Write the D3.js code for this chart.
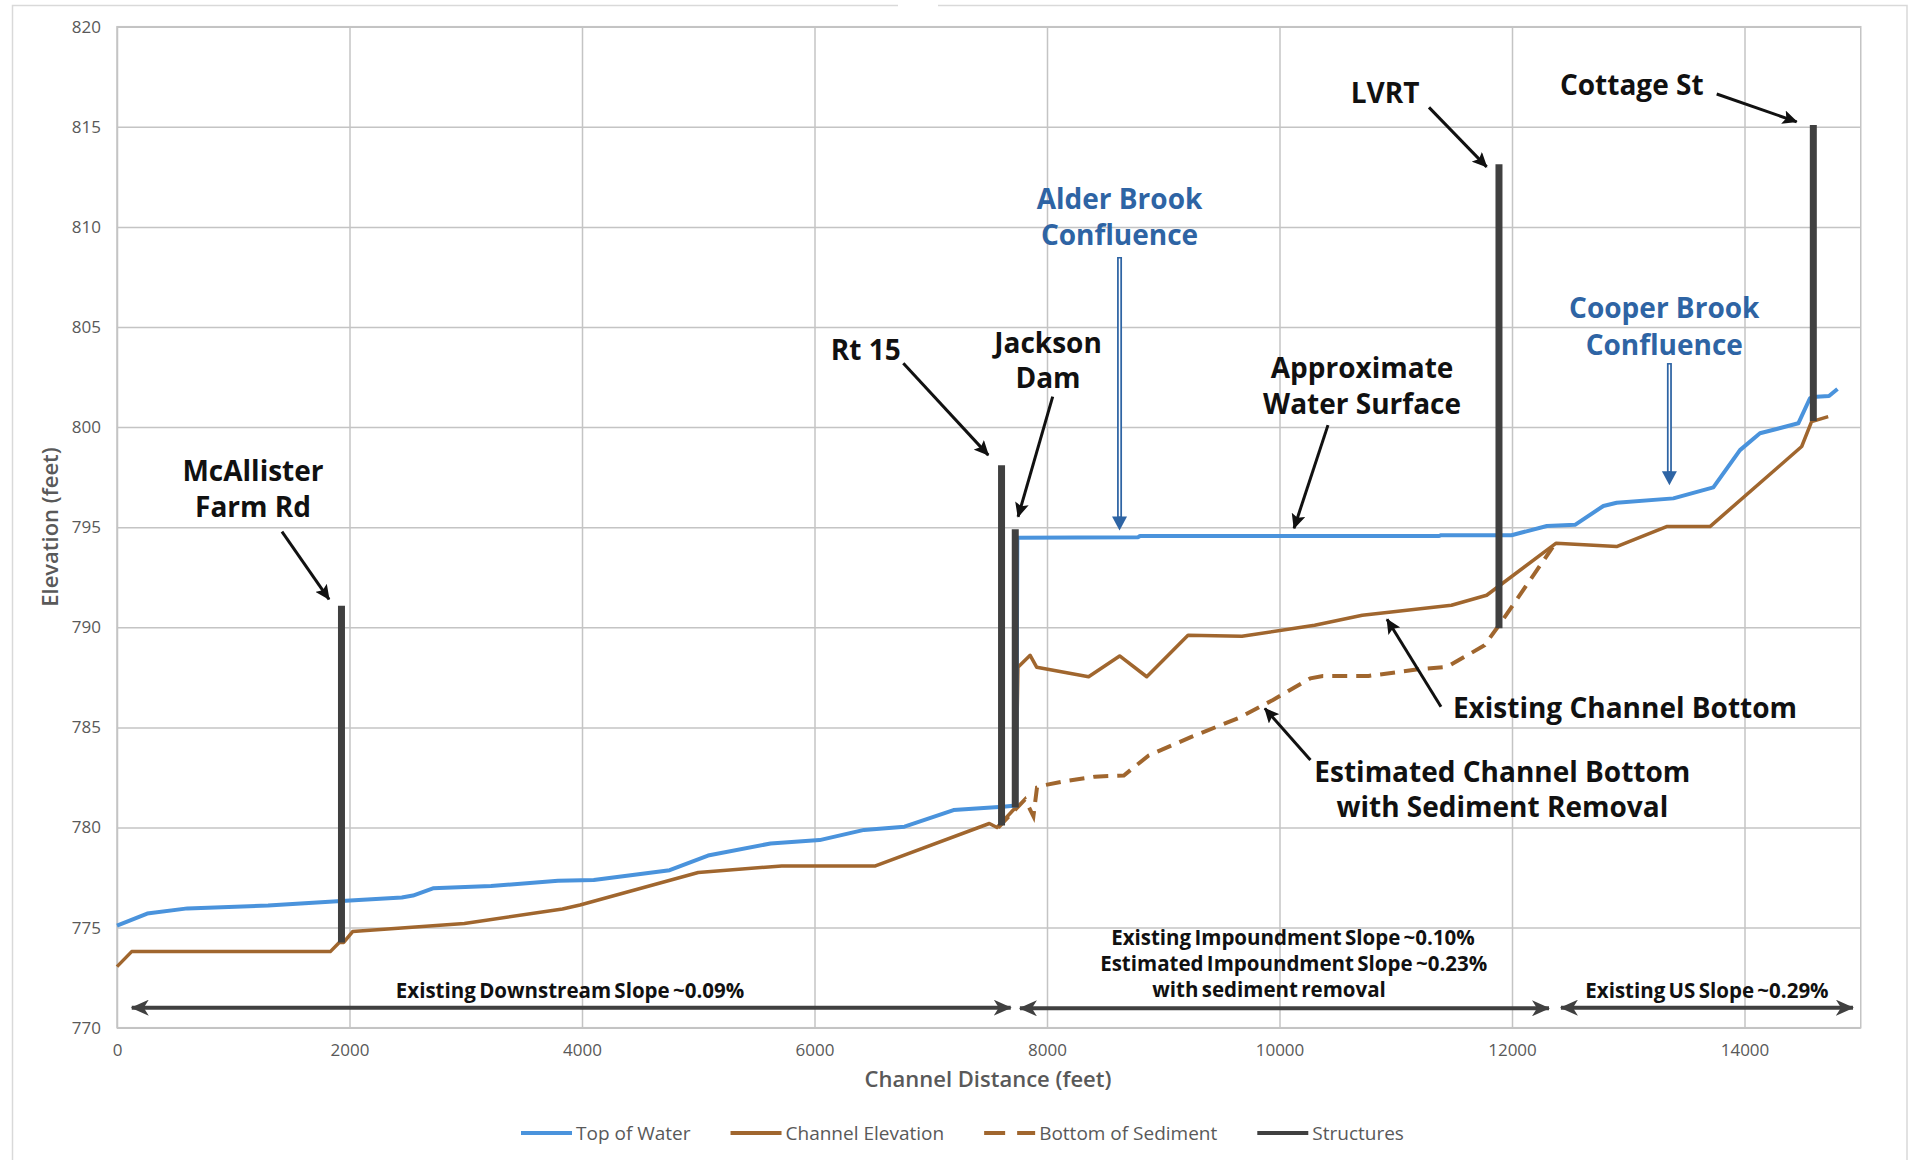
<!DOCTYPE html>
<html>
<head>
<meta charset="utf-8">
<script src="https://cdn.jsdelivr.net/npm/d3@7"></script>
<style>
  body { margin: 0; background: #fff; }
  text { font-family: "Open Sans", "Noto Sans", sans-serif; }
  .tick text { fill: #595959; font-size: 17px; }
  .grid line { stroke: #c4c4c4; stroke-width: 1.5px; }
  .note { font-weight: 700; font-size: 28px; fill: #111; }
  .blue { fill: #2e64a4; }
  .slope { font-weight: 700; font-size: 20.5px; fill: #111; word-spacing: -2px; }
  .axisTitle { font-weight: 600; font-size: 22px; fill: #595959; }
  .legend text { font-size: 19px; fill: #595959; }
</style>
</head>
<body>
<svg width="1909" height="1160"></svg>
<script>
// **** data ****

var waterDist = [0, 260, 606, 1300, 1931, 2450, 2546, 2718, 3217, 3794, 4101, 4754, 5084, 5622, 6044, 6426, 6774, 7196, 7619, 7735,
    7745, 8785, 8800, 11374, 11390, 11996, 12300, 12542, 12786, 12900, 13388, 13732, 13961, 14133, 14463, 14563, 14620, 14727, 14800];
var waterElev = [775.1, 775.7, 775.96, 776.1, 776.33, 776.5, 776.6, 776.96, 777.08, 777.34, 777.38, 777.87, 778.6, 779.2, 779.37, 779.88, 780.04, 780.87, 781.04, 781.1,
    794.47, 794.5, 794.56, 794.56, 794.6, 794.6, 795.06, 795.12, 796.06, 796.22, 796.44, 796.99, 798.85, 799.69, 800.19, 801.44, 801.52, 801.55, 801.9];

var chanDist = [0, 126, 1835, 1912, 1950, 2027, 2988, 3832, 3983, 5000, 5718, 6524, 7504, 7570, 7730, 7750, 7855, 7912, 8358,
    8625, 8858, 9213, 9677, 10302, 10712, 11479, 11782, 12380, 12900, 13330, 13703, 14492, 14577, 14720];
var chanElev = [773.05, 773.8, 773.8, 774.26, 774.26, 774.8, 775.2, 775.93, 776.13, 777.75, 778.08, 778.08, 780.2, 780.0, 781.0, 788.0, 788.6, 788.0, 787.53,
    788.57, 787.53, 789.6, 789.55, 790.1, 790.6, 791.1, 791.6, 794.2, 794.03, 795.03, 795.03, 799.03, 800.27, 800.52];

var sedDist = [7580, 7811, 7883, 7914, 7966, 8138, 8412, 8661, 8875, 9232, 9660, 9944, 10266, 10373, 10766, 11192, 11444, 11764, 11888, 12350];
var sedElev = [780.0, 781.4, 780.56, 782.0, 782.1, 782.3, 782.54, 782.6, 783.6, 784.5, 785.5, 786.37, 787.45, 787.57, 787.57, 787.9, 788.03, 789.1, 790.1, 794.0];

var structNames = ["McAllister Farm Rd", "Rt 15", "Jackson Dam", "LVRT", "Cottage St"];
var structDist = [1931, 7609, 7727, 11888, 14592];
var structBottom = [774.26, 780.1, 781.0, 789.95, 800.3];
var structTop = [791.08, 798.1, 794.9, 813.13, 815.09];

var xTicks = [0, 2000, 4000, 6000, 8000, 10000, 12000, 14000];
var yTicks = [770, 775, 780, 785, 790, 795, 800, 805, 810, 815, 820];

var legendNames = ["Top of Water", "Channel Elevation", "Bottom of Sediment", "Structures"];

// **** scales and axes ****

var plotLeft = 117, plotTop = 26.7, plotW = 1743.75, plotH = 1001;

var distScale = d3.scaleLinear().domain([0, 15000]).range([plotLeft, plotLeft + plotW]);
var elevScale = d3.scaleLinear().domain([770, 820]).range([plotTop + plotH, plotTop]);

var svg = d3.select('svg');

// outer frame (the top edge has a small break in the source)
svg.append('path')
    .attr('d', 'M898,5.5 H12.5 V1175 H1907 V5.5 H938')
    .attr('fill', 'none').attr('stroke', '#d9d9d9').attr('stroke-width', 1.5);

svg.append('g').attr('class', 'grid')
    .attr('transform', 'translate(0,' + (plotTop + plotH) + ')')
    .call(d3.axisBottom(distScale).tickValues(xTicks).tickSize(-plotH).tickPadding(16).tickFormat(d3.format('d')))
    .call(g => g.select('.domain').remove());

svg.append('g').attr('class', 'grid')
    .attr('transform', 'translate(' + plotLeft + ',0)')
    .call(d3.axisLeft(elevScale).tickValues(yTicks).tickSize(-plotW).tickPadding(16))
    .call(g => g.select('.domain').remove());

svg.append('rect')
    .attr('x', plotLeft).attr('y', plotTop).attr('width', plotW).attr('height', plotH)
    .attr('fill', 'none').attr('stroke', '#c4c4c4').attr('stroke-width', 1.5);

svg.append('text').attr('class', 'axisTitle')
    .text('Channel Distance (feet)')
    .attr('text-anchor', 'middle')
    .attr('transform', 'translate(988,1087)');

svg.append('text').attr('class', 'axisTitle')
    .text('Elevation (feet)')
    .attr('text-anchor', 'middle')
    .attr('transform', 'translate(58,527) rotate(-90)');

// **** profile lines ****

var line = d3.line().x(d => distScale(d[0])).y(d => elevScale(d[1]));

function pairs(xs, ys) { return xs.map((x, i) => [x, ys[i]]); }

svg.append('path')
    .attr('d', line(pairs(sedDist, sedElev)))
    .attr('fill', 'none').attr('stroke', '#a0662e').attr('stroke-width', 4)
    .attr('stroke-dasharray', '15,9');

svg.append('path')
    .attr('d', line(pairs(chanDist, chanElev)))
    .attr('fill', 'none').attr('stroke', '#a0662e').attr('stroke-width', 3.5)
    .attr('stroke-linejoin', 'round');

svg.append('path')
    .attr('d', line(pairs(waterDist, waterElev)))
    .attr('fill', 'none').attr('stroke', '#4a93dc').attr('stroke-width', 4)
    .attr('stroke-linejoin', 'round');

structDist.forEach(function(d, i) {
    svg.append('line')
        .attr('x1', distScale(d)).attr('x2', distScale(d))
        .attr('y1', elevScale(structBottom[i])).attr('y2', elevScale(structTop[i]))
        .attr('stroke', '#404040').attr('stroke-width', 7);
});

// **** annotations ****

var defs = svg.append('defs');
defs.append('marker')
    .attr('id', 'head').attr('markerUnits', 'userSpaceOnUse')
    .attr('markerWidth', 16).attr('markerHeight', 14)
    .attr('refX', 14).attr('refY', 7).attr('orient', 'auto')
    .append('path').attr('d', 'M0,0 L15,7 L0,14 L3,7 z').attr('fill', '#111');

defs.append('marker')
    .attr('id', 'slopeHead').attr('markerUnits', 'userSpaceOnUse')
    .attr('markerWidth', 20).attr('markerHeight', 16)
    .attr('refX', 17).attr('refY', 8).attr('orient', 'auto-start-reverse')
    .append('path').attr('d', 'M0,0 L18,8 L0,16 L5,8 z').attr('fill', '#404040');

function note(lines, ft, elev, gap, cls) {
    var t = svg.append('text').attr('class', cls || 'note').attr('text-anchor', 'middle');
    lines.forEach(function(s, i) {
        t.append('tspan').attr('x', distScale(ft)).attr('y', elevScale(elev) + i * gap).text(s);
    });
}

function pointer(f1, e1, f2, e2) {
    svg.append('line')
        .attr('x1', distScale(f1)).attr('y1', elevScale(e1))
        .attr('x2', distScale(f2)).attr('y2', elevScale(e2))
        .attr('stroke', '#111').attr('stroke-width', 3)
        .attr('marker-end', 'url(#head)');
}

function bluePointer(ft, e1, e2) {
    var x = distScale(ft), y1 = elevScale(e1), y2 = elevScale(e2);
    svg.append('line').attr('x1', x).attr('x2', x).attr('y1', y1).attr('y2', y2 - 12)
        .attr('stroke', '#2e64a4').attr('stroke-width', 5);
    svg.append('line').attr('x1', x).attr('x2', x).attr('y1', y1 + 1.5).attr('y2', y2 - 14)
        .attr('stroke', '#fff').attr('stroke-width', 1.5);
    svg.append('path')
        .attr('d', 'M' + (x - 7.5) + ',' + (y2 - 14) + ' L' + (x + 7.5) + ',' + (y2 - 14) + ' L' + x + ',' + y2 + ' z')
        .attr('fill', '#2e64a4');
}

function slopeArrow(f1, f2, elev) {
    svg.append('line')
        .attr('x1', distScale(f1)).attr('x2', distScale(f2))
        .attr('y1', elevScale(elev)).attr('y2', elevScale(elev))
        .attr('stroke', '#404040').attr('stroke-width', 4)
        .attr('marker-start', 'url(#slopeHead)').attr('marker-end', 'url(#slopeHead)');
}

note(['McAllister', 'Farm Rd'], 1170, 797.3, 35.5);
pointer(1419, 794.78, 1824, 791.4);

note(['Rt 15'], 6441, 803.35, 0);
pointer(6764, 803.19, 7495, 798.6);

note(['Jackson', 'Dam'], 8009, 803.72, 35.6);
pointer(8049, 801.52, 7751, 795.52);

note(['Alder Brook', 'Confluence'], 8624, 810.88, 35.7, 'note blue');
bluePointer(8624, 808.5, 794.83);

note(['Approximate', 'Water Surface'], 10710, 802.45, 36);
pointer(10417, 800.1, 10125, 794.95);

note(['LVRT'], 10908, 816.17, 0);
pointer(11286, 815.97, 11782, 813.0);

note(['Cottage St'], 13030, 816.59, 0);
pointer(13761, 816.64, 14449, 815.25);

note(['Cooper Brook', 'Confluence'], 13310, 805.43, 36.7, 'note blue');
bluePointer(13354, 803.2, 797.1);

note(['Existing Channel Bottom'], 12972, 785.45, 0);
pointer(11389, 786.03, 10925, 790.4);

note(['Estimated Channel Bottom', 'with Sediment Removal'], 11917, 782.29, 35.6);
pointer(10266, 783.37, 9874, 785.95);

note(['Existing Downstream Slope ~0.09%'], 3897, 771.48, 0, 'slope');
slopeArrow(127, 7688, 771.0);

var imp = svg.append('text').attr('class', 'slope').attr('text-anchor', 'middle');
imp.append('tspan').attr('x', distScale(10116)).attr('y', elevScale(774.13)).text('Existing Impoundment Slope ~0.10%');
imp.append('tspan').attr('x', distScale(10122)).attr('y', elevScale(772.85)).text('Estimated Impoundment Slope ~0.23%');
imp.append('tspan').attr('x', distScale(9910)).attr('y', elevScale(771.55)).text('with sediment removal');
slopeArrow(7767, 12318, 770.97);

note(['Existing US Slope ~0.29%'], 13677, 771.48, 0, 'slope');
slopeArrow(12421, 14933, 771.0);

// **** legend ****

var legend = svg.append('g').attr('class', 'legend').attr('transform', 'translate(521,1133)');
var styles = [
    {stroke: '#4a93dc', dash: null},
    {stroke: '#a0662e', dash: null},
    {stroke: '#a0662e', dash: '21,12'},
    {stroke: '#404040', dash: null}
];
var cursor = 0;
legendNames.forEach(function(name, i) {
    var g = legend.append('g').attr('transform', 'translate(' + cursor + ',0)');
    g.append('line').attr('x1', 0).attr('x2', 51).attr('y1', 0).attr('y2', 0)
        .attr('stroke', styles[i].stroke).attr('stroke-width', 4)
        .attr('stroke-dasharray', styles[i].dash);
    var t = g.append('text').attr('x', 55).attr('y', 6.5).text(name);
    cursor += 55 + t.node().getComputedTextLength() + 40;
});
</script>
</body>
</html>
